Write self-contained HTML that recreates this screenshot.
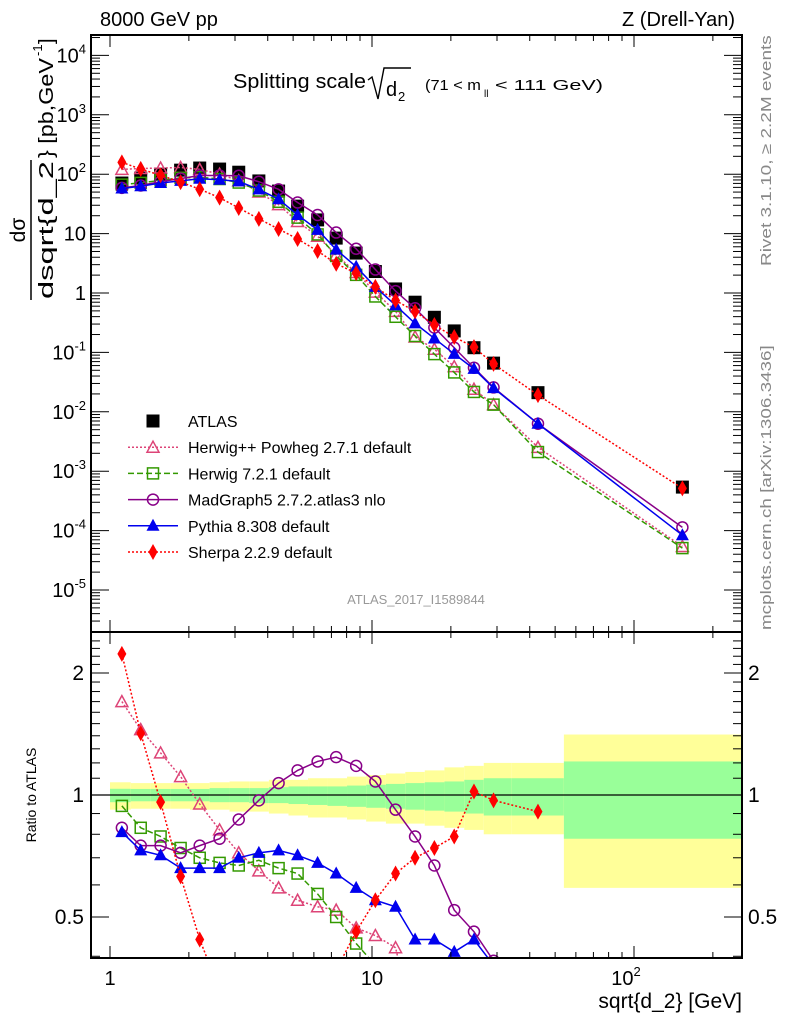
<!DOCTYPE html>
<html><head><meta charset="utf-8"><style>
html,body{margin:0;padding:0;background:#fff;overflow:hidden;width:786px;height:1024px}
svg{display:block}
svg text{font-family:"Liberation Sans",sans-serif}
</style></head><body>
<svg id="c" width="786" height="1024" viewBox="0 0 786 1024" xmlns="http://www.w3.org/2000/svg">
<g id="bands"></g><g id="series"></g><g id="axes"></g>
<text x="100" y="26" font-size="20">8000 GeV pp</text>
<text x="735" y="26" font-size="20" text-anchor="end">Z (Drell-Yan)</text>
<g>
<text class="fit" data-len="133" x="233" y="88" font-size="20">Splitting scale</text>
<path d="M368,80 l4,-3 l6,22 l6,-31 h27" fill="none" stroke="#000" stroke-width="1.4"/>
<text x="386" y="96" font-size="20">d</text><text x="398" y="101" font-size="13">2</text>
<text class="fit" data-len="56" x="425" y="90" font-size="15">(71 &lt; m</text><text x="484" y="97" font-size="10">ll</text><text class="fit" data-len="108" x="495" y="90" font-size="15">&lt; 111 GeV)</text>
</g>
<g transform="translate(0,230) rotate(-90)">
<text x="0" y="25" font-size="21" text-anchor="middle">dσ</text>
<line x1="-70" y1="31" x2="70" y2="31" stroke="#000" stroke-width="1.5"/>
<text class="fit" data-len="138" x="-69" y="53" font-size="20">dsqrt{d_2</text>
<text class="fit" data-len="100" x="72" y="53" font-size="20">} [pb,GeV</text>
<text x="174" y="42" font-size="13">-1</text>
<text x="186" y="53" font-size="20">]</text>
</g>
<g transform="translate(771,266) rotate(-90)"><text class="fit" data-len="231" x="0" y="0" font-size="15" fill="#888">Rivet 3.1.10, ≥ 2.2M events</text></g>
<g transform="translate(771,630) rotate(-90)"><text class="fit" data-len="285" x="0" y="0" font-size="15" fill="#888">mcplots.cern.ch [arXiv:1306.3436]</text></g>
<text x="416" y="604" font-size="13" fill="#999" text-anchor="middle">ATLAS_2017_I1589844</text>
<text transform="translate(36,795) rotate(-90)" font-size="14" text-anchor="middle">Ratio to ATLAS</text>
<text x="742" y="1008" font-size="21" text-anchor="end">sqrt{d_2} [GeV]</text>
<g id="legend"></g>
</svg>
<script>
const xs=[1.11,1.31,1.56,1.86,2.2,2.62,3.1,3.7,4.4,5.2,6.2,7.3,8.7,10.3,12.3,14.6,17.3,20.6,24.5,29.1,43,153];
const edges=[1.0,1.2,1.43,1.7,2.02,2.4,2.86,3.4,4.04,4.8,5.7,6.76,8.03,9.5,11.3,13.4,15.9,18.9,22.5,26.7,34,54,258];
const atlas=[71,86,100,117,127,122,108,77,52,29,17,8.4,4.7,2.3,1.17,0.7,0.39,0.23,0.12,0.066,0.021,0.00054];
const rPowheg=[1.70,1.45,1.27,1.11,0.95,0.82,0.72,0.65,0.59,0.55,0.53,0.52,0.47,0.45,0.42,0.26,0.29,0.25,0.2,0.2,0.12,0.1];
const rH7=[0.94,0.83,0.79,0.74,0.70,0.68,0.67,0.69,0.66,0.64,0.57,0.50,0.43,0.38,0.34,0.27,0.24,0.2,0.18,0.2,0.1,0.094];
const rMG=[0.83,0.75,0.75,0.72,0.75,0.78,0.87,0.97,1.07,1.15,1.21,1.24,1.18,1.08,0.92,0.79,0.67,0.52,0.46,0.39,0.30,0.21];
const rPy=[0.81,0.73,0.71,0.66,0.66,0.66,0.70,0.72,0.73,0.71,0.68,0.64,0.59,0.55,0.53,0.44,0.44,0.41,0.44,0.38,0.30,0.155];
const rSh=[2.23,1.42,0.96,0.63,0.44,0.33,0.25,0.23,0.23,0.28,0.30,0.37,0.46,0.55,0.64,0.70,0.74,0.79,1.02,0.97,0.91,0.95];
const yelUp=[1.075,1.07,1.07,1.07,1.07,1.075,1.08,1.08,1.09,1.09,1.10,1.10,1.11,1.12,1.13,1.14,1.15,1.17,1.18,1.2,1.2,1.41];
const yelDn=[0.92,0.925,0.925,0.925,0.92,0.92,0.91,0.91,0.90,0.89,0.88,0.88,0.87,0.86,0.85,0.85,0.84,0.83,0.82,0.8,0.8,0.59];
const grnUp=[1.036,1.035,1.035,1.035,1.035,1.04,1.04,1.04,1.045,1.05,1.05,1.05,1.055,1.06,1.065,1.07,1.075,1.08,1.09,1.1,1.1,1.21];
const grnDn=[0.96,0.965,0.965,0.965,0.965,0.96,0.96,0.955,0.955,0.95,0.945,0.94,0.935,0.93,0.925,0.92,0.915,0.91,0.9,0.89,0.89,0.78];
const yTickVals=[1e-5,1e-4,1e-3,1e-2,1e-1,1,10,100,1e3,1e4];
const yTickLabels=["10^-5","10^-4","10^-3","10^-2","10^-1","1","10","10^2","10^3","10^4"];
const rTickVals=[0.5,1,2];
const rTickLabels=["0.5","1","2"];

const NS="http://www.w3.org/2000/svg";
const L=91,R=742,T1=35,B1=632,T2=632,B2=958;
const X=v=>110+262*Math.log10(v);
const Y=v=>293-59.4*Math.log10(v);
const YR=r=>795-122*Math.log2(r);
function el(tag,attrs,parent){const e=document.createElementNS(NS,tag);for(const k in attrs)e.setAttribute(k,attrs[k]);parent.appendChild(e);return e;}
const svg=document.getElementById('c');
const bands=document.getElementById('bands'),series=document.getElementById('series'),axes=document.getElementById('axes'),legend=document.getElementById('legend');

document.querySelectorAll('text.fit').forEach(t=>{
  const target=+t.getAttribute('data-len');const w=t.getComputedTextLength();
  if(!w)return;const x=+t.getAttribute('x'),y=+t.getAttribute('y');
  t.setAttribute('x',0);t.setAttribute('y',0);
  t.setAttribute('transform',`translate(${x},${y}) scale(${target/w},1)`);
});

for(let i=0;i<xs.length;i++){
  const x0=X(edges[i]),x1=Math.min(X(edges[i+1]),R);
  const y=el('rect',{x:x0,y:YR(yelUp[i]),width:x1-x0,height:YR(yelDn[i])-YR(yelUp[i]),fill:'#ffff99'},bands);
  
  
  const g=el('rect',{x:x0,y:YR(grnUp[i]),width:x1-x0,height:YR(grnDn[i])-YR(grnUp[i]),fill:'#99ff99'},bands);
  
  
}
el('line',{x1:L,x2:R,y1:YR(1),y2:YR(1),stroke:'#000','stroke-width':1.3},bands);

for(const [t,b] of [[T1,B1],[T2,B2]]){
  const f=el('rect',{x:L,y:t,width:R-L,height:b-t,fill:'none',stroke:'#000','stroke-width':2},axes);
  
  
}
for(let d=0;d<3;d++)for(let m=1;m<10;m++){
  const v=m*Math.pow(10,d);const x=X(v);if(x>R||x<L)continue;
  const len=m===1?12:6;
  for(const [t,b] of [[T1,B1],[T2,B2]]){
    el('line',{x1:x,x2:x,y1:b,y2:b-len,stroke:'#000','stroke-width':1},axes);
    el('line',{x1:x,x2:x,y1:t,y2:t+len,stroke:'#000','stroke-width':1},axes);
  }
}
[[1,"1"],[10,"10"]].forEach(([v,s])=>{const t=el('text',{x:X(v),y:985,'font-size':20,'text-anchor':'middle'},axes);t.textContent=s;});
{const t=el('text',{x:X(100)-8,y:985,'font-size':20,'text-anchor':'middle'},axes);t.innerHTML='10<tspan font-size="13" dy="-9">2</tspan>';}
for(let e=-6;e<=4;e++)for(let m=1;m<10;m++){
  const y=Y(m*Math.pow(10,e));if(y<T1||y>B1)continue;
  const len=m===1?18:9;
  el('line',{x1:L,x2:L+len,y1:y,y2:y,stroke:'#000'},axes);
  el('line',{x1:R,x2:R-len,y1:y,y2:y,stroke:'#000'},axes);
}
yTickVals.forEach((v,i)=>{
  const s=yTickLabels[i];const t=el('text',{x:86,y:Y(v)+7,'font-size':20,'text-anchor':'end'},axes);
  if(s.includes('^')){const [b,p]=s.split('^');t.innerHTML=b+'<tspan font-size="13" dy="-9">'+p+'</tspan>';}
  else t.textContent=s;
  
  
});
for(let r=0.4;r<=2.5;r+=0.1){const y=YR(r);if(y<T2||y>B2)continue;const maj=[0.5,1,2].some(q=>Math.abs(q-r)<1e-6);const len=maj?18:9;
 el('line',{x1:L,x2:L+len,y1:y,y2:y,stroke:'#000'},axes);el('line',{x1:R,x2:R-len,y1:y,y2:y,stroke:'#000'},axes);}
rTickVals.forEach((v,i)=>{
  for(const [x,a] of [[84,'end'],[748,'start']]){const t=el('text',{x:x,y:YR(v)+7,'font-size':21,'text-anchor':a},axes);t.textContent=rTickLabels[i];
  
  }
});

function marker(kind,x,y,col,g){
  if(kind==='sq') return el('rect',{x:x-6.5,y:y-6.5,width:13,height:13,fill:'#000'},g);
  if(kind==='osq') return el('rect',{x:x-5.5,y:y-5.5,width:11,height:11,fill:'none',stroke:col,'stroke-width':1.5},g);
  if(kind==='otri') return el('path',{d:`M${x},${y-6}L${x+6},${y+5}L${x-6},${y+5}Z`,fill:'none',stroke:col,'stroke-width':1.5},g);
  if(kind==='tri') return el('path',{d:`M${x},${y-7}L${x+6.5},${y+5}L${x-6.5},${y+5}Z`,fill:col},g);
  if(kind==='ocirc') return el('circle',{cx:x,cy:y,r:5.5,fill:'none',stroke:col,'stroke-width':1.5},g);
  if(kind==='dia') return el('path',{d:`M${x},${y-8}L${x+4.5},${y}L${x},${y+8}L${x-4.5},${y}Z`,fill:col},g);
}
const defs=[
 {name:'herwig-powheg',ratio:rPowheg,col:'#dd4477',kind:'otri',dash:'2,2',label:'Herwig++ Powheg 2.7.1 default',nr:22},
 {name:'herwig7',ratio:rH7,col:'#339900',kind:'osq',dash:'6,3',label:'Herwig 7.2.1 default',nr:22},
 {name:'madgraph5',ratio:rMG,col:'#880088',kind:'ocirc',dash:'',label:'MadGraph5 2.7.2.atlas3 nlo',nr:22},
 {name:'pythia8',ratio:rPy,col:'#0000ee',kind:'tri',dash:'',label:'Pythia 8.308 default',nr:22},
 {name:'sherpa',ratio:rSh,col:'#ff0000',kind:'dia',dash:'2,2',label:'Sherpa 2.2.9 default',nr:21}
];
const cp=el('clipPath',{id:'rc'},svg);el('rect',{x:L,y:T2,width:R-L,height:B2-T2},cp);
const ga=el('g',{},series);
xs.forEach((x,i)=>{const m=marker('sq',X(x),Y(atlas[i]),'#000',ga);});
defs.forEach(d=>{
  const g=el('g',{},series);
  
  
  const pts=xs.map((x,i)=>[X(x),Y(atlas[i]*d.ratio[i])]);
  el('polyline',{points:pts.map(p=>p.join(',')).join(' '),fill:'none',stroke:d.col,'stroke-width':1.5,'stroke-dasharray':d.dash},g);
  pts.forEach(p=>{const m=marker(d.kind,p[0],p[1],d.col,g);});
  const gr=el('g',{'clip-path':'url(#rc)'},series);
  
  
  const rp=xs.slice(0,d.nr).map((x,i)=>[X(x),YR(d.ratio[i])]);
  el('polyline',{points:rp.map(p=>p.join(',')).join(' '),fill:'none',stroke:d.col,'stroke-width':1.5,'stroke-dasharray':d.dash},gr);
  rp.forEach(p=>{const m=marker(d.kind,p[0],p[1],d.col,gr);});
});
const leg=[{label:'ATLAS',kind:'sq',col:'#000',dash:null}].concat(defs);
leg.forEach((d,i)=>{
  const y=421+i*26.2;
  const g=el('g',{},legend);
  
  
  if(d.dash!==null) el('line',{x1:128,x2:178,y1:y,y2:y,stroke:d.col,'stroke-width':1.5,'stroke-dasharray':d.dash},g);
  marker(d.kind,153,y,d.col,g);
  const t=el('text',{x:188,y:y+6,'font-size':16},g);t.textContent=d.label;
});
</script>
</body></html>
